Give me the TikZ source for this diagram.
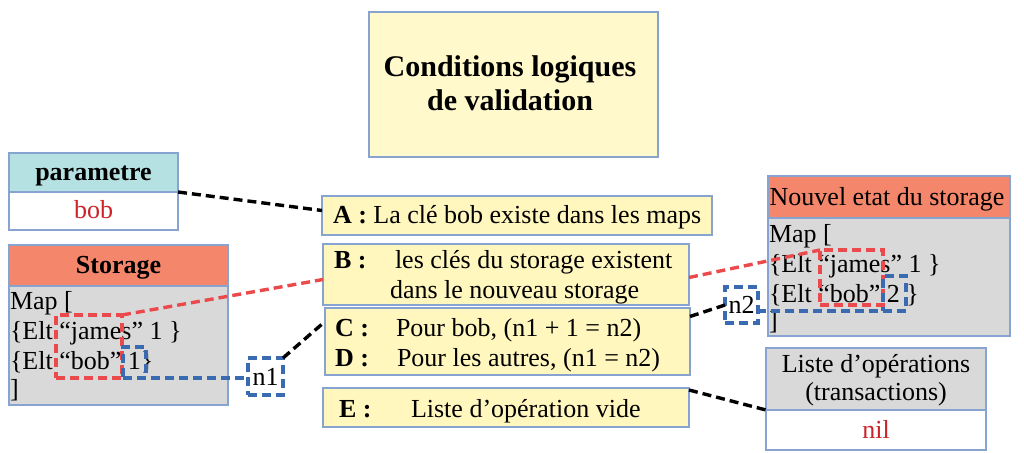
\documentclass[tikz,border=0pt]{standalone}
\usepackage{fontspec}
\setmainfont{Liberation Serif}
\definecolor{edge}{HTML}{86A4CF}
\definecolor{condfill}{HTML}{FFF7BE}
\definecolor{titlefill}{HTML}{FFF9CC}
\definecolor{tealfill}{HTML}{B6E1E2}
\definecolor{salmon}{HTML}{F4876B}
\definecolor{grayfill}{HTML}{D9D9D9}
\definecolor{valred}{HTML}{CC2229}
\definecolor{reddash}{HTML}{EA4A4C}
\definecolor{bluedash}{HTML}{3A6BB0}
\begin{document}
\begin{tikzpicture}[x=1pt,y=-1pt,
  every node/.style={font=\fontsize{26}{30}\selectfont, inner sep=0pt, outer sep=0pt},
  box/.style={draw=edge, line width=1.3pt, anchor=north west},
  txt/.style={anchor=base west},
  ctxt/.style={anchor=base},
  dashline/.style={line width=3.4pt, dash pattern=on 9pt off 5pt},
  rdash/.style={draw=reddash, dashline, anchor=north west},
  bdash/.style={draw=bluedash, dashline},
  rline/.style={draw=reddash, dashline},
  bline/.style={draw=bluedash, dashline},
  kline/.style={draw=black, dashline}
]
\useasboundingbox (0,0) rectangle (1024,452);

% title
\node[box, fill=titlefill, minimum width=289pt, minimum height=145pt] (title) at (369,12) {};
\node[ctxt, font=\fontsize{30}{34}\selectfont\bfseries] (t1) at (510,77) {Conditions logiques};
\node[ctxt, font=\fontsize{30}{34}\selectfont\bfseries] (t2) at (510,110) {de validation};

% parametre
\node[box, fill=tealfill, minimum width=169pt, minimum height=39pt] (parh) at (9,153) {};
\node[box, fill=white, minimum width=169pt, minimum height=38pt] (parv) at (9,192) {};
\node[ctxt, font=\fontsize{26}{30}\selectfont\bfseries] (parht) at (93.5,180) {parametre};
\node[ctxt, text=valred] (parvt) at (93.5,218) {bob};

% storage
\node[box, fill=salmon, minimum width=219pt, minimum height=41pt] (sth) at (9,245) {};
\node[box, fill=grayfill, minimum width=219pt, minimum height=119pt] (stb) at (9,286) {};
\node[ctxt, font=\fontsize{26}{30}\selectfont\bfseries] (stht) at (118.5,273) {Storage};
\node[txt] (s1) at (10,309) {Map [};
\node[txt] (s2) at (10,339) {\{Elt “james” 1 \}};
\node[txt] (s3) at (10,369) {\{Elt “bob” 1\}};
\node[txt] (s4) at (10,397) {]};

% conditions
\node[box, fill=condfill, minimum width=390pt, minimum height=39pt] (A) at (322,196) {};
\node[txt] (At) at (333,223) {\textbf{A :} La clé bob existe dans les maps};

\node[box, fill=condfill, minimum width=366pt, minimum height=61pt] (B) at (323,244) {};
\node[txt] (Bl) at (334,268) {\textbf{B :}};
\node[txt] (B1) at (395,268) {les clés du storage existent};
\node[txt] (B2) at (390,298) {dans le nouveau storage};

\node[box, fill=condfill, minimum width=365pt, minimum height=67pt] (CD) at (325,308) {};
\node[txt] (Cl) at (335,336) {\textbf{C :}};
\node[txt] (C1) at (396,336) {Pour bob, (n1 + 1 = n2)};
\node[txt] (Dl) at (335,366) {\textbf{D :}};
\node[txt] (D1) at (397,366) {Pour les autres, (n1 = n2)};

\node[box, fill=condfill, minimum width=366pt, minimum height=39pt] (E) at (323,388) {};
\node[txt] (El) at (339,417) {\textbf{E :}};
\node[txt] (E1) at (411,417) {Liste d’opération vide};

% new storage
\node[box, fill=salmon, minimum width=242pt, minimum height=42pt] (nwh) at (768,176) {};
\node[box, fill=grayfill, minimum width=242pt, minimum height=118pt] (nwb) at (768,218) {};
\node[ctxt] (nwht) at (887,205) {Nouvel etat du storage};
\node[txt] (n1l) at (769,242) {Map [};
\node[txt] (n2l) at (769,272) {\{Elt “james” 1 \}};
\node[txt] (n3l) at (769,302) {\{Elt “bob” 2 \}};
\node[txt] (n4l) at (769,329) {]};

% operation list
\node[box, fill=grayfill, minimum width=220pt, minimum height=62pt] (oph) at (766,348) {};
\node[box, fill=white, minimum width=220pt, minimum height=40pt] (opb) at (766,410) {};
\node[ctxt] (op1) at (876,372) {Liste d’opérations};
\node[ctxt] (op2) at (876,400) {(transactions)};
\node[ctxt, text=valred] (op3) at (876,438) {nil};

% highlighted regions
\node[rdash, minimum width=66pt, minimum height=63pt] (r1) at (56,315) {};
\node[bdash, anchor=north west, minimum width=23pt, minimum height=31pt] (b1) at (123,347) {};
\node[bdash, minimum width=35pt, minimum height=37pt] (nn1) at (265.5,376.5) {n1};

\node[rdash, minimum width=63pt, minimum height=55pt] (r2) at (820,250) {};
\node[bdash, anchor=north west, minimum width=23pt, minimum height=35pt] (b2) at (883,276) {};
\node[bdash, minimum width=33pt, minimum height=36pt] (nn2) at (741.5,305) {n2};

% connectors
\draw[kline] (parh.south east) -- ([yshift=5pt]A.west);
\draw[rline] (r1.north east) -- ([yshift=-5pt]B.west);
\draw[rline] ([yshift=-3pt]B.east) -- (r2.north west);
\draw[bline] (b1.south west) -- (b1.south west -| nn1.west);
\draw[kline] (nn1.north east) -- ([yshift=20pt]CD.west);
\draw[kline] ([yshift=25pt]CD.east) -- (nn2.west);
\draw[bline] (b2.south east) -- (b2.south east -| nn2.east);
\draw[kline] ([yshift=-2pt]E.north east) -- (oph.south west);
\end{tikzpicture}
\end{document}
